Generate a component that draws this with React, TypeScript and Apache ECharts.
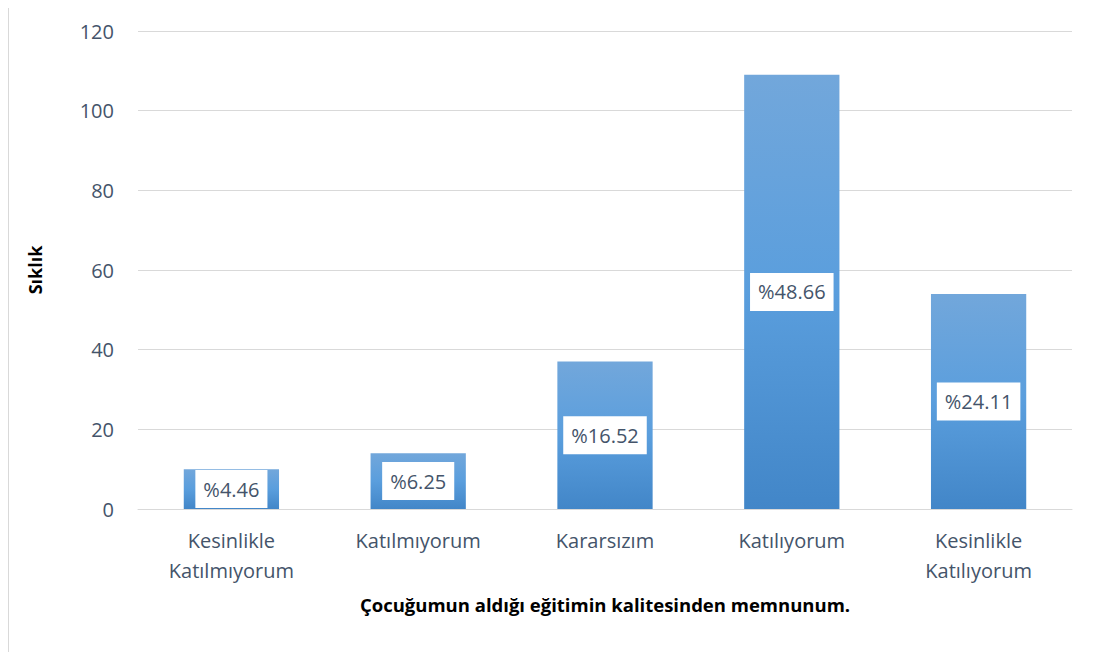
import React, { useEffect, useRef } from "react";
import * as echarts from "echarts";

const categories = ["Kesinlikle\nKatılmıyorum", "Katılmıyorum", "Kararsızım", "Katılıyorum", "Kesinlikle\nKatılıyorum"];
const counts = [10, 14, 37, 109, 54];
const percentLabels = ["%4.46", "%6.25", "%16.52", "%48.66", "%24.11"];
const yTicks = [0, 20, 40, 60, 80, 100, 120];

const FONT = "'Open Sans', 'Noto Sans', sans-serif";

export default function App() {
  const ref = useRef<HTMLDivElement>(null);
  useEffect(() => {
    if (!ref.current) return;
    const chart = echarts.init(ref.current, undefined, { renderer: "svg" });
    chart.setOption({
      animation: false,
      backgroundColor: "#ffffff",
      textStyle: { fontFamily: FONT },
      graphic: [
        {
          type: "rect",
          shape: { x: 0.5, y: 0.5, width: 1200, height: 800 },
          style: { fill: "none", stroke: "#d9d9d9", lineWidth: 1 },
          silent: true,
          z: -10,
        },
      ],
      grid: { left: 130, right: 28, top: 28, bottom: 143 },
      xAxis: {
        type: "category",
        data: categories,
        axisLine: { show: true, lineStyle: { color: "#d9d9d9", width: 1 } },
        axisTick: { show: false },
        axisLabel: {
          color: "#44546a",
          fontSize: 20,
          fontFamily: FONT,
          lineHeight: 30,
          margin: 16,
          interval: 0,
        },
        name: "Çocuğumun aldığı eğitimin kalitesinden memnunum.",
        nameLocation: "middle",
        nameGap: 86,
        nameTextStyle: { color: "#000000", fontSize: 18.5, fontWeight: "bold", fontFamily: FONT },
      },
      yAxis: {
        type: "value",
        min: yTicks[0],
        max: yTicks[yTicks.length - 1],
        interval: 20,
        axisLine: { show: false },
        axisTick: { show: false },
        splitLine: { lineStyle: { color: "#d9d9d9", width: 1 } },
        axisLabel: { color: "#44546a", fontSize: 20, fontFamily: FONT, margin: 24 },
        name: "Sıklık",
        nameLocation: "middle",
        nameGap: 94,
        nameRotate: 90,
        nameTextStyle: { color: "#000000", fontSize: 18, fontWeight: "bold", fontFamily: FONT },
      },
      series: [
        {
          type: "bar",
          data: counts,
          barWidth: "51%",
          itemStyle: {
            color: new echarts.graphic.LinearGradient(0, 0, 0, 1, [
              { offset: 0, color: "#72a7db" },
              { offset: 0.5, color: "#5a9edd" },
              { offset: 1, color: "#4286c8" },
            ]),
          },
          label: {
            show: true,
            position: "inside",
            formatter: (p: any) => percentLabels[p.dataIndex],
            color: "#44546a",
            fontSize: 20,
            lineHeight: 26,
            fontFamily: FONT,
            backgroundColor: "#ffffff",
            padding: [6, 8, 6, 8],
          },
        },
      ],
    });
    return () => chart.dispose();
  }, []);
  return <div ref={ref} style={{ width: 1092, height: 649, marginTop: -5 }} />;
}
